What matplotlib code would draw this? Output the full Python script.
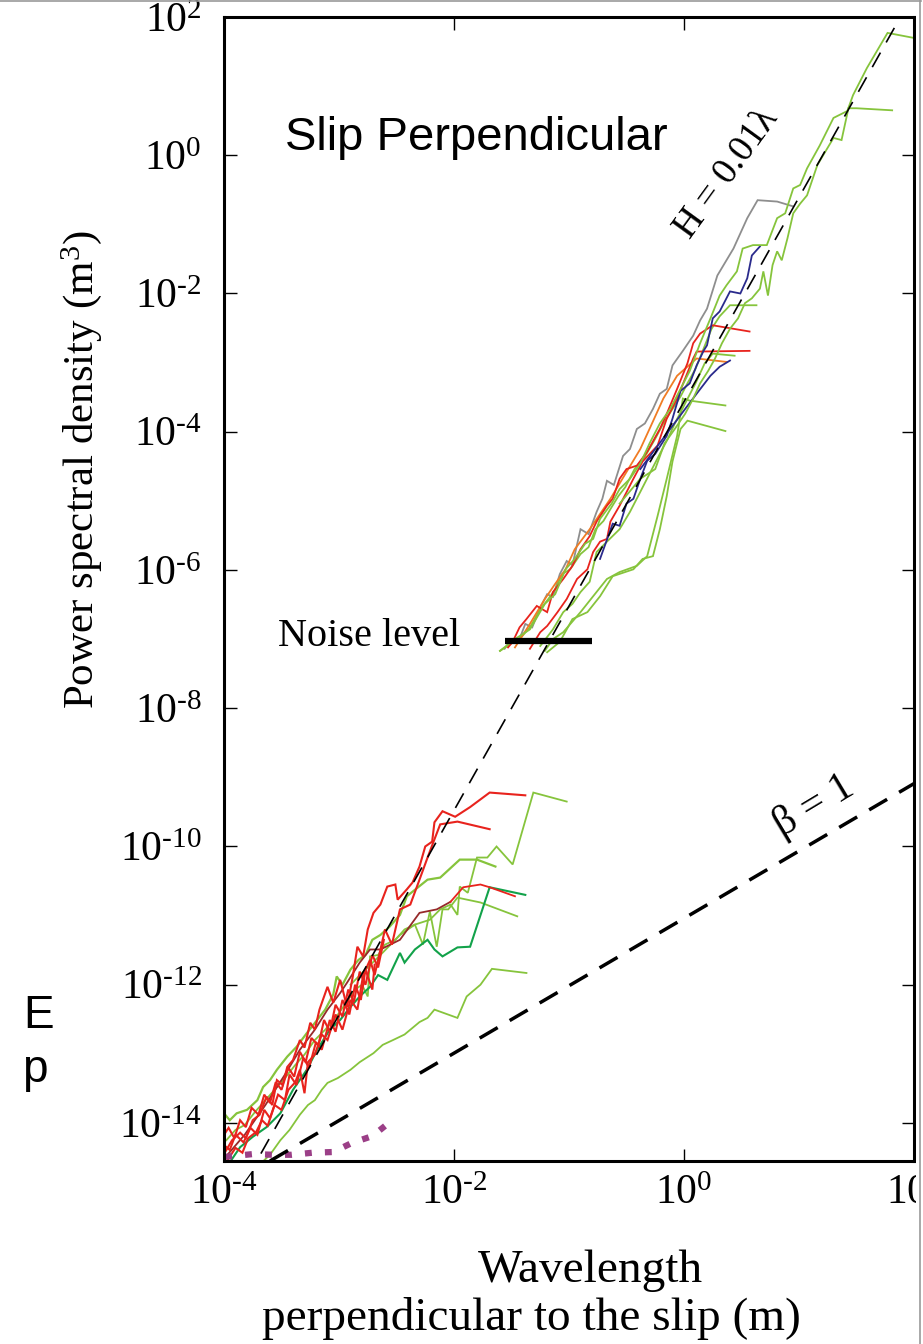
import numpy as np
import matplotlib
matplotlib.use('Agg')
import matplotlib.pyplot as plt
from matplotlib.ticker import FuncFormatter, NullLocator
from matplotlib.lines import Line2D
from matplotlib.patches import Rectangle

plt.rcParams['font.family'] = ['Liberation Serif', 'DejaVu Serif']
plt.rcParams['mathtext.fontset'] = 'custom'
plt.rcParams['mathtext.rm'] = 'Liberation Serif'
plt.rcParams['mathtext.it'] = 'Liberation Serif:italic'

# all values are log10(wavelength [m]) and log10(PSD [m^3])
# ---- upper cluster (large scale profiles) ----
gray_x = [-1.56, -1.50, -1.44, -1.38, -1.32, -1.25, -1.19, -1.14, -1.08, -1.02, -0.97, -0.90, -0.83, -0.76, -0.71,
          -0.67, -0.61, -0.53, -0.47, -0.41, -0.34, -0.27, -0.21, -0.15, -0.10, -0.01, 0.08, 0.14, 0.20, 0.29, 0.43,
          0.55, 0.64, 0.81, 0.95]
gray_y = [-7.14, -7.00, -7.04, -6.78, -6.83, -6.54, -6.35, -6.39, -6.06, -5.87, -5.93, -5.41, -5.48, -5.16, -4.97,
          -4.71, -4.77, -4.35, -4.25, -3.96, -3.88, -3.67, -3.45, -3.38, -3.04, -2.83, -2.61, -2.39, -2.22, -1.74, -1.35,
          -0.91, -0.65, -0.67, -0.74]

redA_x = [-1.53, -1.49, -1.43, -1.37, -1.28, -1.19, -1.14, -1.05, -0.97, -0.90, -0.82, -0.76, -0.67, -0.62, -0.56,
          -0.50, -0.41, -0.32, -0.21, -0.15, -0.06, 0.03, 0.08, 0.14, 0.25, 0.57]
redA_y = [-7.12, -7.04, -6.83, -6.71, -6.52, -6.61, -6.32, -6.13, -5.94, -5.70, -5.51, -5.30, -5.07, -4.97, -4.68,
          -4.54, -4.49, -4.29, -3.96, -3.74, -3.38, -3.01, -2.72, -2.58, -2.46, -2.55]

redB_x = [-1.34, -1.25, -1.19, -1.10, -1.02, -0.93, -0.84, -0.79, -0.73, -0.67, -0.64, -0.56, -0.44, -0.36, -0.23,
          -0.15, -0.06, 0.01, 0.08, 0.11, 0.57]
redB_y = [-7.14, -6.90, -6.81, -6.61, -6.42, -6.13, -5.99, -5.74, -5.59, -5.55, -5.30, -5.07, -4.68, -4.43, -4.20,
          -3.81, -3.52, -3.23, -2.94, -2.84, -2.83]

orange_x = [-1.47, -1.34, -1.21, -1.12, -1.03, -0.95, -0.82, -0.73, -0.64, -0.51, -0.38, -0.30, -0.18, -0.06, 0.11, 0.37]
orange_y = [-7.12, -6.78, -6.42, -6.20, -5.99, -5.70, -5.41, -5.19, -4.97, -4.61, -4.25, -3.96, -3.52, -3.19, -2.94, -2.99]

blue1_x = [-0.73, -0.62, -0.56, -0.50, -0.44, -0.38, -0.32, -0.25, -0.15, -0.10, -0.03, 0.05, 0.11, 0.17, 0.20, 0.25,
           0.31, 0.40, 0.49, 0.55, 0.59, 0.66]
blue1_y = [-5.84, -5.33, -5.36, -5.04, -4.97, -4.68, -4.42, -4.32, -4.06, -3.81, -3.41, -3.30, -3.04, -2.83, -2.75, -2.36,
           -2.26, -1.97, -2.00, -1.78, -1.45, -1.32]
blue2_x = [-0.38, -0.25, -0.12, 0.01, 0.11, 0.23, 0.31, 0.40]
blue2_y = [-4.54, -4.25, -3.96, -3.67, -3.45, -3.19, -3.06, -2.97]

gup1_x = [-1.60, -1.47, -1.34, -1.21, -1.12, -1.03, -0.95, -0.86, -0.79, -0.73, -0.63, -0.56, -0.47, -0.38, -0.30,
          -0.21, -0.12, -0.03, 0.05, 0.14, 0.23, 0.31, 0.37, 0.46, 0.51, 0.60, 0.72, 0.81, 0.88, 0.95, 1.01, 1.07, 1.18,
          1.30, 1.42, 1.47, 1.59, 1.77, 1.99]
gup1_y = [-7.17, -7.00, -6.86, -6.49, -6.35, -5.99, -5.84, -5.62, -5.55, -5.26, -5.04, -4.83, -4.68, -4.46, -4.17,
          -3.88, -3.67, -3.38, -3.12, -2.72, -2.36, -2.03, -1.88, -1.68, -1.35, -1.30, -1.30, -0.91, -0.84, -0.48, -0.43,
          -0.19, 0.14, 0.54, 0.64, 0.87, 1.26, 1.77, 1.70]
gup2_x = [-0.56, -0.38, -0.25, -0.17, -0.08, 0.01, 0.08, 0.14, 0.21, 0.27, 0.33, 0.40, 0.47, 0.53, 0.59, 0.66, 0.69,
          0.73, 0.77, 0.81, 0.85, 0.90, 0.95, 1.01, 1.07, 1.16, 1.30, 1.37, 1.43, 1.50, 1.81]
gup2_y = [-5.04, -4.68, -4.54, -4.17, -3.96, -3.74, -3.52, -3.30, -3.12, -2.94, -2.72, -2.51, -2.36, -2.14, -2.07, -1.93,
          -1.68, -2.03, -1.59, -1.39, -1.52, -1.20, -0.84, -0.70, -0.58, -0.14, 0.25, 0.22, 0.68, 0.68, 0.65]
gc_x = [-1.25, -1.14, -1.05, -0.97, -0.90, -0.82, -0.76, -0.67, -0.56, -0.47, -0.38, -0.30, -0.21, -0.14, -0.08, 0.01,
        0.10, 0.18, 0.25, 0.44]
gc_y = [-7.10, -6.86, -6.61, -6.49, -6.32, -6.17, -5.74, -5.59, -5.41, -5.16, -4.87, -4.61, -4.32, -4.10, -3.88, -3.59,
        -3.30, -3.01, -2.87, -2.90]
gd_x = [-1.60, -1.51, -1.43, -1.34, -1.25, -1.18, -1.12, -1.06, -0.99, -0.90, -0.83, -0.77, -0.70, -0.64, -0.57, -0.51,
        -0.43, -0.34, -0.25, -0.18, -0.10, -0.03, 0.03, 0.10, 0.17, 0.24, 0.31, 0.40, 0.63]
gd_y = [-7.17, -7.07, -7.00, -6.83, -6.57, -6.42, -6.28, -6.06, -5.99, -5.77, -5.67, -5.41, -5.29, -5.12, -4.93, -4.80,
        -4.54, -4.36, -4.10, -3.88, -3.67, -3.49, -3.30, -3.09, -2.80, -2.51, -2.33, -2.17, -2.17]
glow1_x = [-1.19, -1.08, -0.97, -0.84, -0.73, -0.62, -0.44, -0.36, -0.27, -0.21, -0.15, -0.10, -0.03, 0.03, 0.36]
glow1_y = [-7.19, -7.04, -6.71, -6.61, -6.38, -6.09, -5.99, -5.84, -5.80, -5.41, -4.93, -4.43, -3.96, -3.84, -3.99]
glow2_x = [-1.21, -1.14, -1.05, -0.90, -0.79, -0.67, -0.56, -0.41, -0.32, -0.23, -0.15, -0.06, -0.01, 0.05, 0.36]
glow2_y = [-7.17, -7.00, -6.90, -6.61, -6.38, -6.13, -6.03, -5.94, -5.80, -5.22, -4.68, -4.06, -3.52, -3.55, -3.62]

# ---- lower cluster (small scale profiles) ----
redL1_x = [-3.99, -3.93, -3.86, -3.81, -3.75, -3.69, -3.63, -3.58, -3.54, -3.49, -3.45, -3.40, -3.34, -3.30, -3.25,
           -3.21, -3.17, -3.10, -3.05, -2.99, -2.93, -2.88, -2.84, -2.79, -2.75, -2.70, -2.64, -2.58, -2.51, -2.49,
           -2.41, -2.36, -2.30, -2.25, -2.19, -2.17, -2.10, -1.99, -1.86, -1.69, -1.38]
redL1_y = [-14.42, -14.25, -14.14, -14.22, -13.96, -13.88, -13.62, -13.74, -13.38, -13.45, -13.19, -13.09, -12.80,
           -12.91, -12.55, -12.65, -12.36, -12.03, -12.26, -11.93, -12.32, -11.88, -11.45, -11.59, -11.20, -10.96,
           -10.84, -10.58, -10.55, -10.77, -10.62, -10.52, -10.29, -10.00, -9.93, -9.65, -9.49, -9.57, -9.43, -9.22,
           -9.26]
redL2_x = [-3.97, -3.90, -3.84, -3.79, -3.72, -3.67, -3.62, -3.56, -3.50, -3.44, -3.38, -3.34, -3.30, -3.27, -3.21,
           -3.15, -3.10, -3.03, -2.97, -2.90, -2.84, -2.79, -2.73, -2.69, -2.60, -2.54, -2.47, -2.38, -2.30, -2.23,
           -2.18, -2.12, -1.97, -1.69]
redL2_y = [-14.54, -14.36, -14.43, -14.22, -14.13, -13.96, -14.04, -13.74, -13.81, -13.52, -13.41, -13.23, -13.57,
           -13.12, -13.01, -12.72, -12.80, -12.43, -12.65, -12.22, -12.36, -11.86, -11.64, -11.86, -11.20, -11.42,
           -10.91, -10.84, -10.48, -10.16, -9.94, -9.68, -9.64, -9.75]
redL4_x = [-4.00, -3.95, -3.90, -3.83, -3.77, -3.71, -3.65, -3.60, -3.53, -3.47, -3.43, -3.37, -3.31, -3.26, -3.20,
           -3.15, -3.08, -3.03, -2.97, -2.91, -2.86, -2.81, -2.77, -2.71, -2.69]
redL4_y = [-14.32, -14.39, -14.17, -14.28, -14.07, -14.17, -13.81, -13.93, -13.59, -13.67, -13.30, -13.45, -13.06,
           -13.20, -12.83, -12.94, -12.51, -12.68, -12.22, -12.43, -12.00, -12.22, -11.78, -12.07, -11.71]
redL5_x = [-4.00, -3.96, -3.91, -3.86, -3.81, -3.76, -3.70, -3.65, -3.60, -3.55, -3.50, -3.44, -3.39, -3.34, -3.29,
           -3.24, -3.18, -3.13, -3.08, -3.03, -2.97, -2.92, -2.87, -2.82, -2.77, -2.71, -2.66, -2.61]
redL5_y = [-14.17, -14.07, -14.22, -13.96, -14.06, -13.78, -13.88, -13.59, -13.71, -13.41, -13.52, -13.20, -13.33,
           -12.97, -13.12, -12.77, -12.88, -12.51, -12.68, -12.29, -12.46, -12.07, -12.25, -11.81, -12.00, -11.57,
           -11.75, -11.35]
maroon_x = [-3.97, -3.82, -3.64, -3.47, -3.34, -3.21, -3.10, -2.99, -2.93, -2.82, -2.73, -2.64, -2.47, -2.30, -2.15, -2.03]
maroon_y = [-14.46, -14.17, -13.74, -13.30, -12.94, -12.65, -12.36, -12.12, -11.97, -11.68, -11.49, -11.49, -11.35,
            -10.96, -10.91, -10.80]
redL3_x = [-2.03, -1.92, -1.77, -1.69, -1.47]
redL3_y = [-10.80, -10.59, -10.55, -10.59, -10.72]

gla_x = [-4.00, -3.95, -3.89, -3.80, -3.71, -3.66, -3.60, -3.54, -3.45, -3.37, -3.28, -3.19, -3.12, -3.05, -3.02, -2.97,
         -2.90, -2.83, -2.77, -2.71, -2.64, -2.56, -2.47, -2.41, -2.23, -2.12, -1.95, -1.80, -1.64]
gla_y = [-13.86, -13.96, -13.86, -13.81, -13.67, -13.48, -13.38, -13.23, -13.04, -12.90, -12.70, -12.51, -12.36, -12.14,
         -11.88, -12.00, -11.78, -11.64, -11.57, -11.35, -11.28, -11.16, -10.99, -10.72, -10.48, -10.45, -10.19, -10.19,
         -10.29]
glb_x = [-2.90, -2.77, -2.64, -2.47, -2.34, -2.21, -2.12, -2.03, -1.97, -1.95, -1.88, -1.80, -1.71, -1.63, -1.49, -1.31, -1.02]
glb_y = [-12.00, -11.78, -11.57, -11.28, -11.13, -11.06, -10.91, -10.84, -10.99, -10.58, -10.67, -10.16, -10.16, -10.00,
         -10.26, -9.22, -9.35]
glc_x = [-3.98, -3.90, -3.82, -3.73, -3.64, -3.56, -3.47, -3.38, -3.30, -3.21, -3.12, -3.03, -2.95, -2.86, -2.80, -2.75,
         -2.73, -2.66, -2.60, -2.51, -2.43, -2.34, -2.27, -2.21, -2.15, -2.10, -2.05, -1.97, -1.77, -1.45]
glc_y = [-14.25, -14.10, -14.03, -13.84, -13.67, -13.52, -13.35, -13.16, -13.01, -12.80, -12.65, -12.48, -12.29, -12.07,
         -12.00, -12.17, -11.59, -11.57, -11.42, -11.35, -11.20, -11.13, -11.42, -10.94, -11.45, -10.91, -10.91, -10.74,
         -10.81, -11.01]
gld_x = [-3.95, -3.86, -3.75, -3.63, -3.51, -3.40, -3.28, -3.19, -3.08, -2.99, -2.90, -2.82, -2.73, -2.66, -2.58, -2.47,
         -2.43, -2.34, -2.23, -2.17, -2.10, -1.97, -1.86, -1.69, -1.38]
gld_y = [-14.57, -14.35, -14.20, -14.06, -13.86, -13.52, -13.23, -12.94, -12.65, -12.51, -12.32, -12.17, -12.03, -11.86,
         -11.93, -11.54, -11.68, -11.49, -11.35, -11.49, -11.59, -11.46, -11.45, -10.59, -10.70]
gle_x = [-3.67, -3.60, -3.51, -3.43, -3.34, -3.27, -3.21, -3.15, -3.10, -3.01, -2.90, -2.82, -2.70, -2.62, -2.53, -2.43,
         -2.30, -2.23, -2.17, -1.97, -1.89, -1.77, -1.67, -1.37]
gle_y = [-14.57, -14.46, -14.25, -14.10, -13.88, -13.74, -13.67, -13.52, -13.42, -13.35, -13.23, -13.12, -12.99, -12.87,
         -12.80, -12.72, -12.54, -12.48, -12.36, -12.48, -12.17, -12.00, -11.77, -11.83]

purple_x = [-3.99, -3.75, -3.57, -3.41, -3.23, -3.05, -2.89, -2.71, -2.56]
purple_y = [-14.49, -14.45, -14.46, -14.46, -14.43, -14.42, -14.29, -14.19, -13.99]

# reference lines (end points) and noise level
hline_x = [-3.80, 1.95]
hline_y = [-14.80, 2.20]
beta_x = [-3.60, 2.00]
beta_y = [-14.55, -9.09]
noise_x = [-1.56, -0.80]
noise_y = [-7.03, -7.03]

GREEN = '#86c43c'
DGREEN = '#12a24a'
RED = '#e8231d'

W, H = 923, 1344
fig = plt.figure(figsize=(W / 100, H / 100), dpi=100)
ax = fig.add_axes([224 / W, 1 - 1161 / H, 690 / W, 1144 / H])


def draw(lx, ly, color, lw=1.3, **kw):
    ax.plot(10 ** np.array(lx), 10 ** np.array(ly), color=color, lw=lw, solid_joinstyle='miter', **kw)


draw(gray_x, gray_y, '#8e8e8e')
draw(glow1_x, glow1_y, GREEN)
draw(glow2_x, glow2_y, GREEN)
draw(gc_x, gc_y, GREEN)
draw(gd_x, gd_y, GREEN)
draw(orange_x, orange_y, '#f07c24')
draw(redA_x, redA_y, RED)
draw(redB_x, redB_y, RED)
draw(blue1_x, blue1_y, '#2a2a8c')
draw(blue2_x, blue2_y, '#2a2a8c')
draw(gup2_x, gup2_y, GREEN)
draw(gup1_x, gup1_y, GREEN)

draw(gle_x, gle_y, GREEN)
draw(glb_x, glb_y, GREEN)
draw(glc_x, glc_y, GREEN)
draw(gla_x, gla_y, GREEN, lw=1.6)
draw(gld_x, gld_y, DGREEN, lw=1.5)
draw(maroon_x, maroon_y, '#962a2a')
draw(redL3_x, redL3_y, RED)
draw(redL5_x, redL5_y, RED, lw=1.5)
draw(redL4_x, redL4_y, RED, lw=1.5)
draw(redL2_x, redL2_y, RED, lw=1.5)
draw(redL1_x, redL1_y, RED, lw=1.5)

draw(purple_x, purple_y, '#9b3f87', lw=4.5, linestyle=(0, (1.1, 2.1)), dash_capstyle='butt')

draw(hline_x, hline_y, 'black', lw=1.2, linestyle=(0, (10, 7)))
draw(beta_x, beta_y, 'black', lw=2.5, linestyle=(0, (6, 4)))
draw(noise_x, noise_y, 'black', lw=4.5, solid_capstyle='butt')

ax.set_xscale('log')
ax.set_yscale('log')
ax.set_xlim(1e-4, 1e2)
ax.set_ylim(10 ** -14.55, 1e2)
ax.set_xticks([1e-4, 1e-2, 1e0, 1e2])
ax.set_yticks([10.0 ** k for k in range(-14, 3, 2)])
# powers of ten written with a short hyphen as in the original figure
pow_fmt = FuncFormatter(lambda v, pos: r'$\mathdefault{10^{\text{%d}}}$' % round(np.log10(v)))
ax.xaxis.set_major_formatter(pow_fmt)
ax.yaxis.set_major_formatter(pow_fmt)
ax.xaxis.set_minor_locator(NullLocator())
ax.yaxis.set_minor_locator(NullLocator())
ax.tick_params(which='major', direction='in', length=9, width=1.0, top=True, right=True, labelsize=30)
ax.tick_params(axis='x', pad=10)
ax.tick_params(axis='y', pad=16)
for s in ax.spines.values():
    s.set_linewidth(2.2)


# texts
def fx(px):
    return px / W


def fy(py):
    return 1 - py / H


fig.text(fx(285), fy(150), 'Slip Perpendicular', family=['Liberation Sans', 'DejaVu Sans'], fontsize=34,
         ha='left', va='baseline')
fig.text(fx(278), fy(637), 'Noise level', fontsize=29, ha='left', va='center')
fig.text(fx(727), fy(174), 'H = 0.01λ', fontsize=27, rotation=54, ha='center', va='center',
         rotation_mode='anchor')
fig.text(fx(814), fy(806), 'β = 1', fontsize=30, rotation=31, ha='center', va='center', rotation_mode='anchor')
fig.text(fx(82), fy(470), 'Power spectral density (m$^3$)', fontsize=31, rotation=90, ha='center', va='center')
fig.text(fx(590), fy(1282), 'Wavelength', fontsize=34, ha='center', va='baseline')
fig.text(fx(262), fy(1330), 'perpendicular to the slip (m)', fontsize=34, ha='left', va='baseline')
fig.text(fx(23), fy(1028), 'E', family=['Liberation Sans', 'DejaVu Sans'], fontsize=33, ha='left', va='baseline')
fig.text(fx(22), fy(1082), 'p', family=['Liberation Sans', 'DejaVu Sans'], fontsize=33, ha='left', va='baseline')

# cropped border of the original picture
fig.patches.append(Rectangle((fx(916), 0), 1 - fx(916), 1, transform=fig.transFigure, facecolor='white',
                             edgecolor='none', zorder=10))
fig.lines.append(Line2D([fx(919.5), fx(919.5)], [0, 1], transform=fig.transFigure, color='#9a9a9a', lw=1.2, zorder=11))
fig.lines.append(Line2D([0, fx(921)], [fy(0.8), fy(0.8)], transform=fig.transFigure, color='#9a9a9a', lw=1.2, zorder=11))

fig.savefig('out.png', dpi=100)
